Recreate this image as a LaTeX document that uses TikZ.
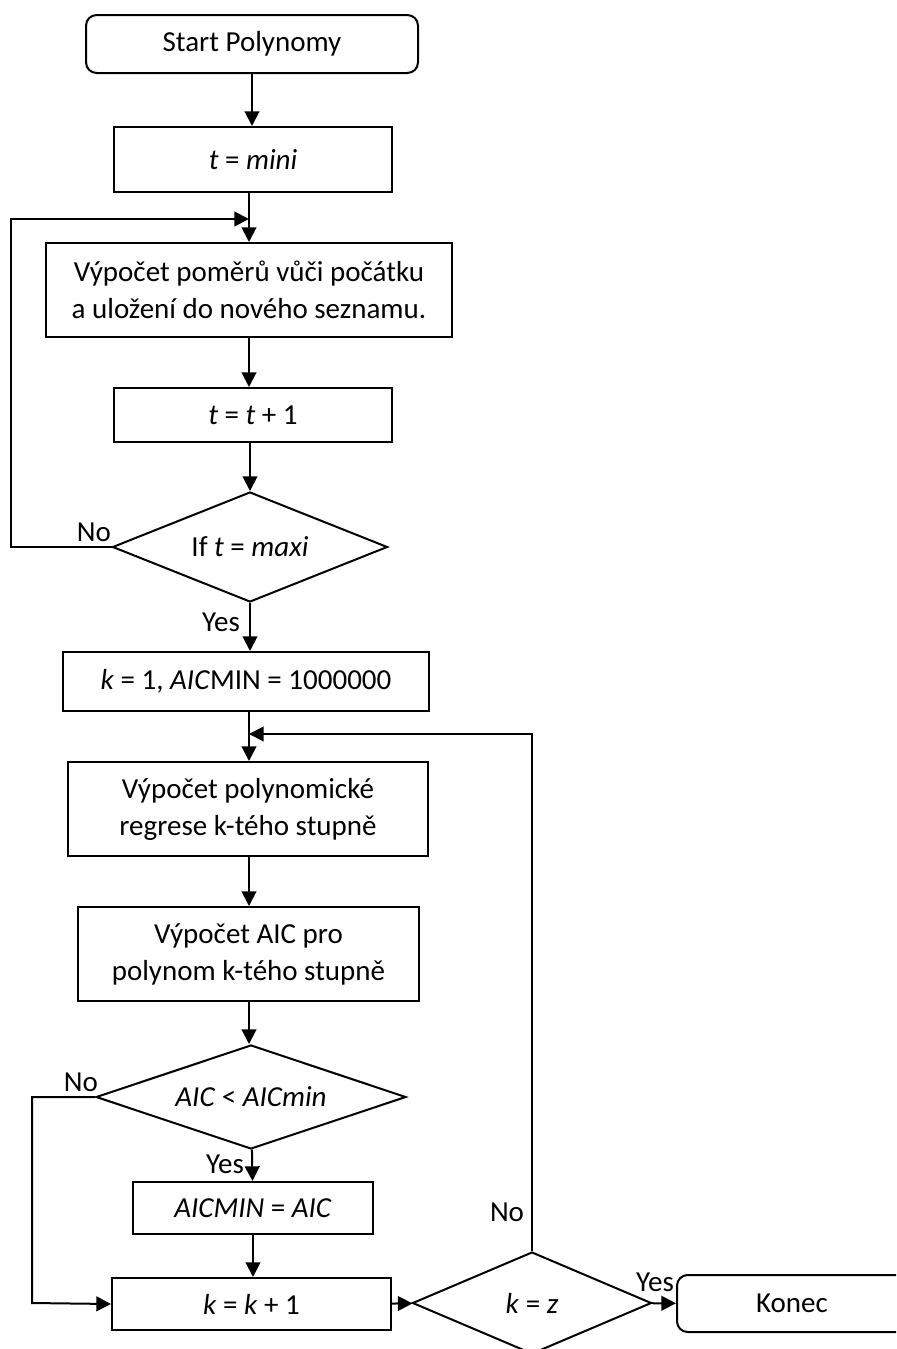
\documentclass[tikz,border=0pt]{standalone}
\usepackage{fontspec}
\setmainfont{Carlito}
\usetikzlibrary{shapes.geometric,arrows.meta}

\tikzset{
	box/.style={shape=rectangle,draw=black,line width=1.5pt,inner sep=0pt,align=center},
	term/.style={box,rounded corners=8pt},
	decision/.style={shape=diamond,draw=black,line width=1.5pt,inner sep=0pt},
	arrow/.style={line width=1.5pt,-{Triangle[length=11pt,width=11pt]}},
	label/.style={inner sep=0pt}
}

\begin{document}
\begin{tikzpicture}[x=0.75pt,y=-0.75pt,font=\fontsize{21.75pt}{27.75pt}\selectfont]
	\useasboundingbox (0,0) rectangle (896,1349);
	\clip (0,0) rectangle (896,1349);

	\node[term,minimum width=249pt,minimum height=43.5pt] (start) at (252, 44) {Start Polynomy};
	\node[box,minimum width=208.5pt,minimum height=48.75pt] (tmini) at (253, 159.5) {\textit{t} = \textit{mini}};
	\node[box,minimum width=304.5pt,minimum height=70.5pt] (calc) at (249, 290) {Výpočet poměrů vůči počátku\\a uložení do nového seznamu.};
	\node[box,minimum width=208.5pt,minimum height=40.5pt] (tinc) at (253, 415) {\textit{t} = \textit{t} + 1};
	\node[decision,aspect=2.5,minimum width=206.25pt,minimum height=82.5pt] (tmax) at (250, 547) {If \textit{t} = \textit{maxi}};
	\node[box,minimum width=274.5pt,minimum height=44.25pt] (kinit) at (246, 681.5) {\textit{k} = 1, \textit{AIC}MIN = 1000000};
	\node[box,minimum width=270pt,minimum height=70.5pt] (poly) at (248, 809) {Výpočet polynomické\\regrese k-tého stupně};
	\node[box,minimum width=255.75pt,minimum height=70.5pt] (aic) at (248.5, 954) {Výpočet AIC pro\\polynom k-tého stupně};
	\node[decision,aspect=3,minimum width=232.5pt,minimum height=78pt] (cmp) at (251, 1097) {\textit{AIC} < \textit{AICmin}};
	\node[box,minimum width=180pt,minimum height=39pt] (aicmin) at (253, 1208) {\textit{AICMIN} = \textit{AIC}};
	\node[box,minimum width=209.25pt,minimum height=39pt] (kinc) at (251.5, 1304) {\textit{k} = \textit{k} + 1};
	\node[decision,aspect=2.3,minimum width=179.25pt,minimum height=76.5pt] (kz) at (532, 1303) {\textit{k} = \textit{z}};
	\node[term,minimum width=172.5pt,minimum height=42.75pt] (konec) at (792, 1303.5) {Konec};

	\coordinate (j1) at (249, 219);
	\coordinate (loopA) at (11, 219);
	\coordinate (j2) at (249, 734);
	\coordinate (loopC) at (32, 1303);

	\node[label] (tmaxNo) at (94, 532) {No};
	\node[label] (tmaxYes) at (221, 622) {Yes};
	\node[label] (cmpNo) at (81, 1082) {No};
	\node[label] (cmpYes) at (225, 1164) {Yes};
	\node[label] (kzNo) at (507, 1212) {No};
	\node[label] (kzYes) at (655, 1282) {Yes};

	\draw[arrow] (start) -- (start |- tmini.north);
	\draw[arrow] (j1 |- tmini.south) -- (j1 |- calc.north);
	\draw[arrow] (calc) -- (calc |- tinc.north);
	\draw[arrow] (tmax |- tinc.south) -- (tmax);
	\draw[arrow] (tmax.west) -| (loopA) -- (j1);
	\draw[arrow] (tmax.south) -- (tmax.south |- kinit.north);
	\draw[arrow] (j2 |- kinit.south) -- (j2 |- poly.north);
	\draw[arrow] (kz.north) |- (j2);
	\draw[arrow] (j2 |- poly.south) -- (j2 |- aic.north);
	\draw[arrow] (j2 |- aic.south) -- (j2 |- cmp.north);
	\draw[arrow] (cmp) -- (aicmin);
	\draw[arrow] (cmp.west) -| (loopC) -- (kinc.west);
	\draw[arrow] (aicmin) -- (aicmin |- kinc.north);
	\draw[arrow] (kinc) -- (kz);
	\draw[arrow] (kz) -- (konec);
\end{tikzpicture}
\end{document}
